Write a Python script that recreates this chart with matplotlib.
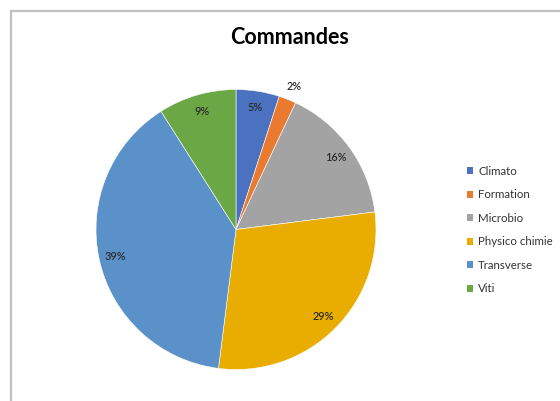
import numpy as np
import matplotlib.pyplot as plt
from matplotlib.patches import Rectangle

# Données des commandes par pôle (en %)
categories = ["Climato", "Formation", "Microbio", "Physico chimie", "Transverse", "Viti"]
valeurs = [5, 2, 16, 29, 39, 9]
couleurs = ["#4a72c0", "#e97a30", "#a3a3a3", "#e8ad00", "#5b91c9", "#6ca746"]

plt.rcParams["font.family"] = ["Lato", "DejaVu Sans"]

fig = plt.figure(figsize=(5.6, 4.01), dpi=100)

# cadre gris du graphique (coupé à droite et en bas)
fig.patches.append(Rectangle((10.5 / 560, -0.05), 1.2, 1 - 10.5 / 401 + 0.05,
                             transform=fig.transFigure, fill=False,
                             edgecolor="#c0c0c0", linewidth=1.6))

ax = fig.add_axes([96 / 560, (401 - 369.5) / 401, 280 / 560, 280 / 401])
wedges, textes, pcts = ax.pie(valeurs, colors=couleurs, startangle=90, counterclock=False,
                              radius=1, autopct="%1.0f%%", pctdistance=0.88,
                              wedgeprops=dict(edgecolor="white", linewidth=0.4),
                              textprops=dict(fontsize=7.8, color="#2b2b2b",
                                             fontweight="semibold"))
ax.set_xlim(-1, 1)
ax.set_ylim(-1, 1)
ax.set_aspect("equal")
ax.axis("off")

# l'étiquette de Formation passe à l'extérieur
w = wedges[1]
theta = np.deg2rad((w.theta1 + w.theta2) / 2)
pcts[1].set_position((1.13 * np.cos(theta), 1.1 * np.sin(theta)))

fig.text(290 / 560, 1 - 38 / 401, "Commandes", ha="center", va="center",
         fontsize=15.5, fontweight="bold", color="#000000")

leg = fig.legend(wedges, categories, loc="center left",
                 bbox_to_anchor=(461 / 560, 1 - 230 / 401), frameon=False,
                 fontsize=8.3, handlelength=0.55, handleheight=0.55, handletextpad=0.45,
                 labelspacing=1.08, borderpad=0)
for t in leg.get_texts():
    t.set_color("#333333")
for h in leg.legend_handles:
    h.set_edgecolor("none")

fig.savefig("out.png", dpi=100, facecolor="white")
